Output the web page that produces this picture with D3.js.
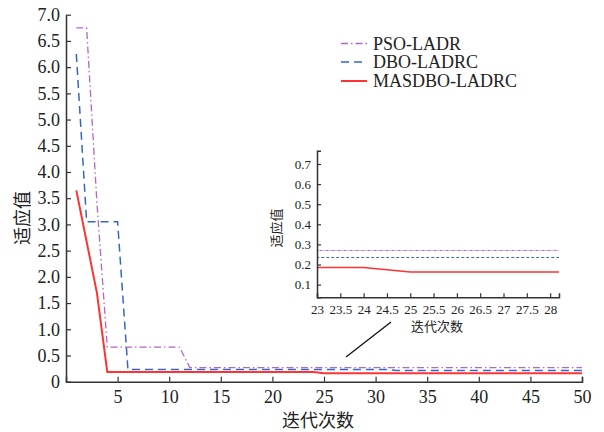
<!DOCTYPE html>
<html><head><meta charset="utf-8">
<script src="https://cdn.jsdelivr.net/npm/d3@7"></script>
<style>body{margin:0;background:#fff}svg{display:block}
.sf{font-family:"Liberation Serif","Times New Roman",serif}
.cj{font-family:"Noto Sans CJK SC",sans-serif}</style>
</head><body><svg id="c" width="604" height="432"></svg>
<script>
const iterations = [1,2,3,4,5,6,7,8,9,10,11,12,13,14,15,16,17,18,19,20,21,22,23,24,25,26,27,28,29,30,31,32,33,34,35,36,37,38,39,40,41,42,43,44,45,46,47,48,49,50];
const psoLadr = [6.75,6.75,3.4,0.66,0.66,0.66,0.66,0.66,0.66,0.66,0.66,0.27,0.27,0.27,0.27,0.27,0.27,0.27,0.27,0.27,0.27,0.27,0.27,0.27,0.27,0.27,0.27,0.27,0.27,0.27,0.27,0.27,0.27,0.27,0.27,0.27,0.27,0.27,0.27,0.27,0.27,0.27,0.27,0.27,0.27,0.27,0.27,0.27,0.27,0.27];
const dboLadrc = [6.25,3.05,3.05,3.05,3.05,0.235,0.235,0.235,0.235,0.235,0.235,0.235,0.235,0.235,0.235,0.235,0.235,0.235,0.235,0.235,0.235,0.235,0.235,0.235,0.235,0.235,0.235,0.235,0.235,0.235,0.235,0.215,0.215,0.215,0.215,0.215,0.215,0.215,0.215,0.215,0.215,0.215,0.215,0.215,0.215,0.215,0.215,0.215,0.215,0.215];
const masdboLadrc = [3.65,2.67,1.69,0.185,0.185,0.185,0.185,0.185,0.185,0.185,0.185,0.185,0.185,0.185,0.185,0.185,0.185,0.185,0.185,0.185,0.185,0.185,0.185,0.185,0.163,0.163,0.163,0.163,0.163,0.163,0.163,0.163,0.163,0.163,0.163,0.163,0.163,0.163,0.163,0.163,0.163,0.163,0.163,0.163,0.163,0.163,0.163,0.163,0.163,0.163];
const seriesNames = ["PSO-LADR","DBO-LADRC","MASDBO-LADRC"];
const xTicks = [5,10,15,20,25,30,35,40,45,50];
const yTicks = [0,0.5,1,1.5,2,2.5,3,3.5,4,4.5,5,5.5,6,6.5,7];
const insetXTicks = [23,23.5,24,24.5,25,25.5,26,26.5,27,27.5,28];
const insetYTicks = [0.1,0.2,0.3,0.4,0.5,0.6,0.7];
const xLabel = "迭代次数", yLabel = "适应值";

const styles = [
  {color:"#b266c8", dash:"7,3,1.5,3", width:1.3},
  {color:"#3566c6", dash:"8,5", width:1.5},
  {color:"#ff3333", dash:null, width:2}
];
const seriesData = [psoLadr, dboLadrc, masdboLadrc].map(v => iterations.map((x,i)=>({x, y:v[i]})));

const svg = d3.select("#c");
const axisColor = "#333";

const x = d3.scaleLinear().domain([0,50]).range([66,582]);
const y = d3.scaleLinear().domain([0,7]).range([381.7,14.7]);

function styleAxis(g, fs){
  g.attr("font-family",null);
  g.select(".domain").attr("stroke",axisColor).attr("stroke-width",1.5);
  g.selectAll(".tick line").attr("stroke",axisColor).attr("stroke-width",1.2);
  g.selectAll(".tick text").attr("class","sf").attr("fill","#222").style("font-size",fs+"px");
}

const gx = svg.append("g").attr("transform",`translate(0,${y(0)})`)
  .call(d3.axisBottom(x).tickValues(xTicks).tickSizeInner(-5).tickSizeOuter(-5).tickPadding(9));
styleAxis(gx,18);
const gy = svg.append("g").attr("transform",`translate(${x(0)},0)`)
  .call(d3.axisLeft(y).tickValues(yTicks).tickSizeInner(-5).tickSizeOuter(0).tickPadding(6)
    .tickFormat(d=> d===0 ? "0" : d3.format(".1f")(d)));
styleAxis(gy,18);

const line = d3.line().x(d=>x(d.x)).y(d=>y(d.y));
seriesData.forEach((d,i)=>{
  svg.append("path").datum(d).attr("fill","none").attr("stroke",styles[i].color)
    .attr("stroke-width",styles[i].width).attr("stroke-dasharray",styles[i].dash).attr("d",line);
});

svg.append("text").attr("class","cj").attr("x",318).attr("y",427).attr("text-anchor","middle")
  .style("font-size","18px").attr("fill","#222").text(xLabel);
svg.append("text").attr("class","cj").attr("transform","translate(29,218) rotate(-90)").attr("text-anchor","middle")
  .style("font-size","18px").attr("fill","#222").text(yLabel);

// legend
const legY = [43.5,62,81];
seriesNames.forEach((n,i)=>{
  svg.append("line").attr("x1",341).attr("x2",367).attr("y1",legY[i]).attr("y2",legY[i])
    .attr("stroke",styles[i].color).attr("stroke-width",styles[i].width).attr("stroke-dasharray",styles[i].dash);
  svg.append("text").attr("class","sf").attr("x",373).attr("y",legY[i]+6).style("font-size","18px")
    .attr("fill","#222").text(n);
});

// connector line
svg.append("line").attr("x1",346).attr("y1",357).attr("x2",391).attr("y2",322)
  .attr("stroke","#111").attr("stroke-width",1.3);

// inset
const ix = d3.scaleLinear().domain([23,28.19]).range([317,559]);
const iy = d3.scaleLinear().domain([0.037,0.766]).range([297.3,150.7]);
svg.append("rect").attr("x",317).attr("y",150).attr("width",243).attr("height",148).attr("fill","#fff");
svg.append("clipPath").attr("id","ic").append("rect").attr("x",317).attr("y",150).attr("width",242).attr("height",148);
const il = d3.line().x(d=>ix(d.x)).y(d=>iy(d.y));
seriesData.forEach((d,i)=>{
  svg.append("path").datum(d).attr("clip-path","url(#ic)").attr("fill","none").attr("stroke",styles[i].color)
    .attr("stroke-width",i===2?1.6:1).attr("stroke-dasharray",i===0?"3,1,1,1":(i===1?"3,2":null)).attr("d",il);
});
const igx = svg.append("g").attr("transform",`translate(0,${iy.range()[0]})`)
  .call(d3.axisBottom(ix).tickValues(insetXTicks).tickSizeInner(-4).tickSizeOuter(-4).tickPadding(7)
    .tickFormat(d=>String(d)));
styleAxis(igx,13);
const igy = svg.append("g").attr("transform",`translate(${ix.range()[0]},0)`)
  .call(d3.axisLeft(iy).tickValues(insetYTicks).tickSizeInner(-4).tickSizeOuter(-4).tickPadding(6)
    .tickFormat(d3.format(".1f")));
styleAxis(igy,13);
svg.append("text").attr("class","cj").attr("x",437).attr("y",331).attr("text-anchor","middle")
  .style("font-size","13px").attr("fill","#222").text(xLabel);
svg.append("text").attr("class","cj").attr("transform","translate(281,228) rotate(-90)").attr("text-anchor","middle")
  .style("font-size","13px").attr("fill","#222").text(yLabel);
</script></body></html>
